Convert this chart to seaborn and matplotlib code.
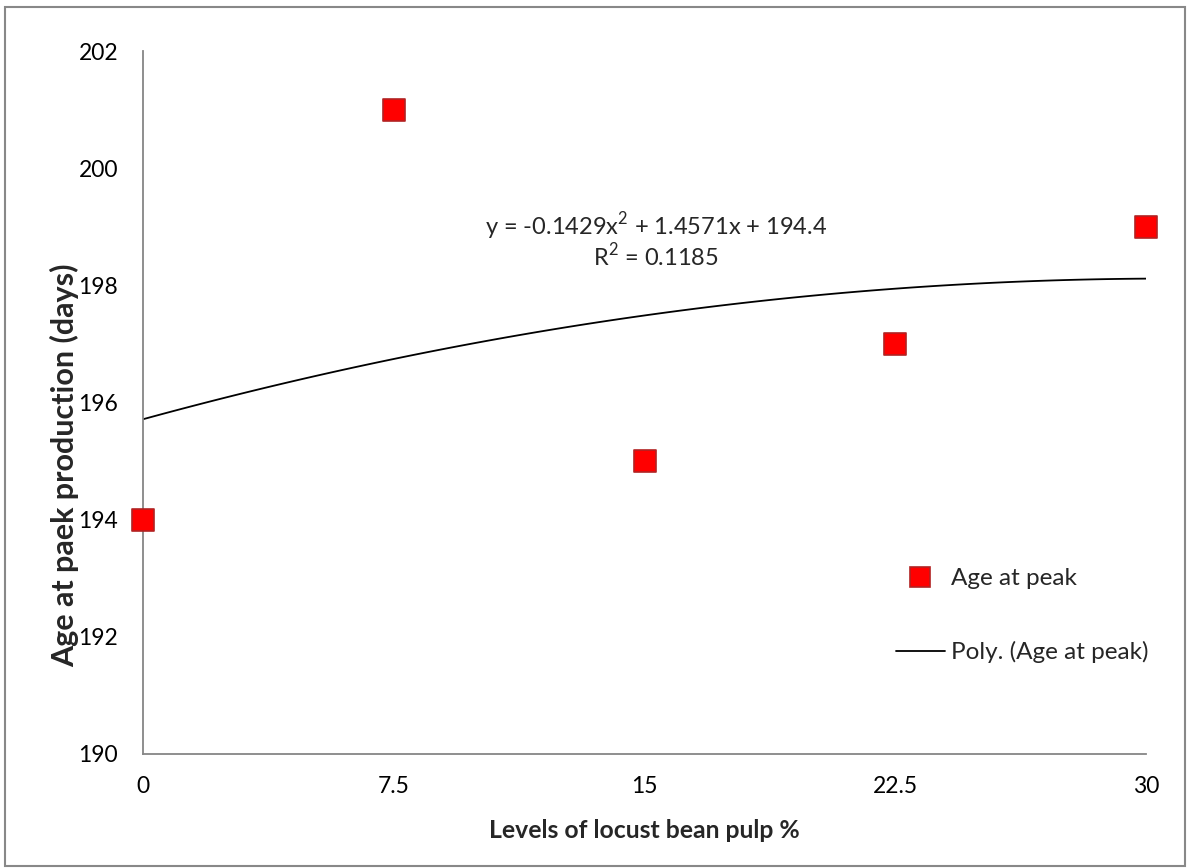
import numpy as np
import pandas as pd
import matplotlib
matplotlib.use("Agg")
import matplotlib.pyplot as plt
from matplotlib.lines import Line2D
from matplotlib.patches import Rectangle
import seaborn as sns

# Data
levels = ["0", "7.5", "15", "22.5", "30"]
age_at_peak = [194, 201, 195, 197, 199]
y_ticks = [190, 192, 194, 196, 198, 200, 202]
equation_text = "y = -0.1429x$^2$ + 1.4571x + 194.4"
r2_text = "R$^2$ = 0.1185"

sns.set_theme(style="white")
plt.rcParams['font.family'] = ['Lato', 'DejaVu Sans']
plt.rcParams['mathtext.fontset'] = 'custom'
plt.rcParams['mathtext.rm'] = 'Lato'

W, H = 1187, 868
fig = plt.figure(figsize=(W / 100, H / 100), dpi=100)
ax = fig.add_axes([143 / W, 1 - 754 / H, (1146 - 143) / W, (754 - 51) / H])

df = pd.DataFrame({"pos": np.arange(len(levels)), "age": age_at_peak})

spine_col = "#868686"

# trend line (2nd order polynomial on category positions, as Excel does)
sns.regplot(data=df, x="pos", y="age", order=2, ci=None, scatter=False, ax=ax,
            line_kws=dict(color="black", lw=1.3))
sns.scatterplot(data=df, x="pos", y="age", ax=ax, marker="s", s=260,
                color="#ff0000", edgecolor="#b22222", linewidth=1.2,
                zorder=5, clip_on=False)

ax.set_xlim(0, len(levels) - 1)
ax.set_ylim(190, 202)
ax.set_xticks(np.arange(len(levels)))
ax.set_xticklabels(levels)
ax.set_yticks(y_ticks)

for s in ["top", "right"]:
    ax.spines[s].set_visible(False)
for s in ["left", "bottom"]:
    ax.spines[s].set_color(spine_col)
    ax.spines[s].set_linewidth(1.3)
ax.tick_params(axis="both", which="major", direction="out", length=8,
               width=1.3, color=spine_col, labelsize=16.5, labelcolor="black")
ax.tick_params(axis="x", pad=8)
ax.tick_params(axis="y", pad=10)

ax.set_xlabel("Levels of locust bean pulp %", fontsize=17.8, fontweight="bold")
ax.set_ylabel("Age at paek production (days)", fontsize=22, fontweight="bold")
ax.xaxis.set_label_coords((644 - 143) / (1146 - 143), (754 - 830) / (754 - 51),
                          transform=ax.transAxes)
ax.xaxis.label.set_va("center")
ax.yaxis.set_label_coords((65 - 143) / (1146 - 143), (754 - 465) / (754 - 51),
                          transform=ax.transAxes)
ax.yaxis.label.set_va("center")

fig.text(656 / W, 1 - 226 / H, equation_text, ha="center", va="center", fontsize=17)
fig.text(656 / W, 1 - 256 / H, r2_text, ha="center", va="center", fontsize=17)

handles = [
    Line2D([], [], marker="s", linestyle="none", markersize=15,
           markerfacecolor="#ff0000", markeredgecolor="#b22222", markeredgewidth=1.2),
    Line2D([], [], color="black", lw=1.3),
]
fig.legend(handles, ["Age at peak", "Poly. (Age at peak)"], loc="upper left",
           bbox_to_anchor=(896 / W, 1 - 568 / H), frameon=False, fontsize=17.5,
           handlelength=2.0, handletextpad=0.25, labelspacing=2.15, borderpad=0,
           borderaxespad=0)

fig.patches.append(Rectangle((5 / W, 1 - 866 / H), (1185 - 5) / W, (866 - 7) / H,
                             transform=fig.transFigure, fill=False,
                             edgecolor="#888888", lw=1.5))

fig.savefig("out.png", dpi=100)
